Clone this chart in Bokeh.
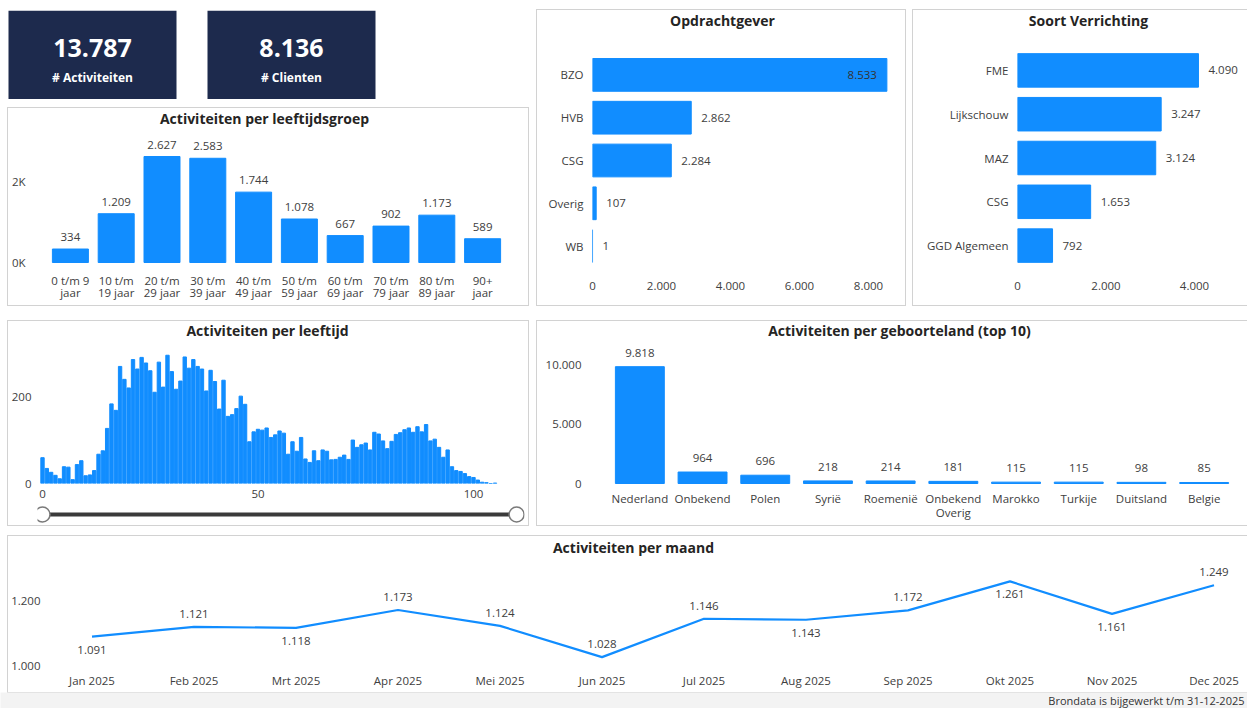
from bokeh.plotting import figure
from bokeh.layouts import row, column
from bokeh.models import Range1d, FactorRange, FixedTicker
from bokeh.core.properties import value
from bokeh.embed import file_html
from bokeh.resources import INLINE

# ---------------- data ----------------
kpi_values = [13787, 8136]
kpi_labels = ["# Activiteiten", "# Clienten"]

age_groups = ["0 t/m 9 jaar", "10 t/m 19 jaar", "20 t/m 29 jaar", "30 t/m 39 jaar",
              "40 t/m 49 jaar", "50 t/m 59 jaar", "60 t/m 69 jaar", "70 t/m 79 jaar",
              "80 t/m 89 jaar", "90+ jaar"]
age_group_axis_labels = ["0 t/m 9\njaar", "10 t/m\n19 jaar", "20 t/m\n29 jaar",
                         "30 t/m\n39 jaar", "40 t/m\n49 jaar", "50 t/m\n59 jaar",
                         "60 t/m\n69 jaar", "70 t/m\n79 jaar", "80 t/m\n89 jaar", "90+\njaar"]
age_group_counts = [334, 1209, 2627, 2583, 1744, 1078, 667, 902, 1173, 589]
age_group_ticks = [0, 2000]
age_group_tick_labels = ["0K", "2K"]

opdrachtgevers = ["BZO", "HVB", "CSG", "Overig", "WB"]
opdrachtgever_counts = [8533, 2862, 2284, 107, 1]
opdrachtgever_ticks = [0, 2000, 4000, 6000, 8000]

verrichtingen = ["FME", "Lijkschouw", "MAZ", "CSG", "GGD Algemeen"]
verrichting_counts = [4090, 3247, 3124, 1653, 792]
verrichting_ticks = [0, 2000, 4000]

ages = list(range(106))
age_counts = [
    60, 35, 26, 19, 11, 39, 38, 9, 44, 53,
    18, 20, 30, 68, 76, 128, 185, 170, 272, 242,
    222, 288, 266, 293, 280, 262, 212, 282, 224, 298,
    260, 219, 238, 294, 268, 288, 272, 266, 215, 263,
    237, 173, 240, 156, 160, 174, 203, 184, 97, 120,
    126, 124, 129, 107, 113, 122, 117, 68, 97, 75,
    107, 57, 49, 76, 53, 78, 75, 55, 56, 61,
    66, 56, 101, 84, 90, 94, 78, 119, 115, 99,
    81, 98, 114, 118, 125, 129, 119, 132, 120, 137,
    99, 103, 84, 61, 78, 39, 30, 28, 23, 16,
    14, 8, 3, 2, 0, 1,
]
hist_xticks = [0, 50, 100]
hist_yticks = [0, 200]
slider_range = [0, 110]

landen = ["Nederland", "Onbekend", "Polen", "Syrië", "Roemenië", "Onbekend Overig",
          "Marokko", "Turkije", "Duitsland", "Belgie"]
landen_axis_labels = ["Nederland", "Onbekend", "Polen", "Syrië", "Roemenië",
                      "Onbekend\nOverig", "Marokko", "Turkije", "Duitsland", "Belgie"]
landen_counts = [9818, 964, 696, 218, 214, 181, 115, 115, 98, 85]
landen_ticks = [0, 5000, 10000]

maanden = ["Jan 2025", "Feb 2025", "Mrt 2025", "Apr 2025", "Mei 2025", "Jun 2025",
           "Jul 2025", "Aug 2025", "Sep 2025", "Okt 2025", "Nov 2025", "Dec 2025"]
maand_counts = [1091, 1121, 1118, 1173, 1124, 1028, 1146, 1143, 1172, 1261, 1161, 1249]
maand_label_pos = ["below", "above", "below", "above", "above", "above",
                   "above", "below", "above", "below", "below", "above"]
maand_yticks = [1000, 1200]

footer_text = "Brondata is bijgewerkt t/m 31-12-2025"

# ---------------- style ----------------
FONT = "Open Sans"
BLUE = "#118DFF"
TITLE_C = "#252423"
TICK_C = "#404040"
LABEL_C = "#404040"
CARD_C = "#1d2a4d"
PANEL = {"outline": "1px solid #d2d2d2"}


def nl(v):
    return f"{int(v):,}".replace(",", ".")


def make_fig(w, h, xr, yr, mbl, mbr, mbt, mbb, axes=True):
    kw = {}
    if not axes:
        kw = dict(x_axis_type=None, y_axis_type=None)
    p = figure(width=w, height=h, x_range=xr, y_range=yr, output_backend="svg",
               toolbar_location=None, min_border_left=mbl, min_border_right=mbr,
               min_border_top=mbt, min_border_bottom=mbb, **kw)
    p.outline_line_color = None
    p.grid.visible = False
    p.background_fill_color = "white"
    p.border_fill_color = "white"
    return p


def title_fig(text, w, h, mbl, mbr, cx, cy):
    """Header strip of a panel; (cx, cy) = title centre relative to the strip's top-left."""
    fw = w - mbl - mbr
    t = make_fig(w, h, Range1d(0, fw), Range1d(0, h), mbl, mbr, 0, 0, axes=False)
    t.text(x=[cx - mbl], y=[h - cy], text=[text], text_align="center",
           text_baseline="middle", text_font=value(FONT), text_font_size="14px",
           text_font_style="bold", text_color=TITLE_C)
    return t


def style_axis(ax, standoff, size="11.5px"):
    ax.axis_line_color = None
    ax.major_tick_line_color = None
    ax.minor_tick_line_color = None
    ax.major_tick_out = 0
    ax.major_tick_in = 0
    ax.major_label_standoff = standoff
    ax.major_label_text_font = FONT
    ax.major_label_text_font_size = size
    ax.major_label_text_color = TICK_C


def data_text(p, **kw):
    base = dict(text_font=value(FONT), text_font_size="11.5px", text_color=LABEL_C,
                text_baseline="middle")
    base.update(kw)
    return p.text(**base)


# ---------------- KPI cards ----------------
CARD_PX = 199.0
p_kpi = make_fig(530, 89, Range1d(-92 / CARD_PX, (530 - 92) / CARD_PX), Range1d(0, 1),
                 0, 0, 0, 0, axes=False)
kx = list(range(len(kpi_values)))
p_kpi.rect(x=kx, y=0.5, width=168 / CARD_PX, height=1.0, fill_color=CARD_C, line_color=None)
p_kpi.text(x=kx, y=0.58, text=[nl(v) for v in kpi_values],
           text_font=value(FONT), text_font_size="25px", text_font_style="bold",
           text_color="white", text_align="center", text_baseline="middle")
p_kpi.text(x=kx, y=0.25, text=kpi_labels,
           text_font=value(FONT), text_font_size="12px", text_font_style="bold",
           text_color="white", text_align="center", text_baseline="middle")

# ---------------- age groups ----------------
AGE_PX = 0.04035          # pixels per activity
A_W, A_H, A_L, A_R, A_B = 520, 172, 39, 23, 2
A_BASE = 129              # baseline, px below top of plot area
p_age = make_fig(A_W, A_H, FactorRange(*age_groups),
                 Range1d(-(A_H - A_B - A_BASE) / AGE_PX, A_BASE / AGE_PX),
                 A_L, A_R, 0, A_B)
p_age.vbar(x=age_groups, top=age_group_counts, bottom=0, width=0.786, color=BLUE)
data_text(p_age, x=age_groups, y=age_group_counts, text=[nl(v) for v in age_group_counts],
          y_offset=-12, text_align="center")
data_text(p_age, x=age_groups, y=[0] * len(age_groups), text=age_group_axis_labels,
          y_offset=10, text_align="center", text_baseline="top", text_color=TICK_C,
          text_line_height=0.86)
p_age.xaxis.visible = False
style_axis(p_age.yaxis[0], 22)
p_age.yaxis.ticker = FixedTicker(ticks=age_group_ticks)
p_age.yaxis.major_label_overrides = dict(zip(age_group_ticks, age_group_tick_labels))
age_panel = column(title_fig("Activiteiten per leeftijdsgroep", A_W, 25, A_L, A_R, 256, 10),
                   p_age)
age_panel.margin = (9, 0, 0, 8)
age_panel.styles = PANEL

left_col = column(row(p_kpi), age_panel)


# ---------------- horizontal bar panels ----------------
def hbar_panel(cats, vals, ticks, w, xend, mbl, mbr, head_h, title, tcx):
    mbb = 38
    p = make_fig(w, 295 - head_h, Range1d(0, xend), FactorRange(*reversed(cats)),
                 mbl, mbr, 0, mbb)
    p.hbar(y=cats, right=vals, left=0, height=0.765, color=BLUE)
    inside = [v > 0.9 * xend for v in vals]
    data_text(p, x=vals, y=cats, text=[nl(v) for v in vals],
              x_offset=[-10 if i else 10 for i in inside],
              text_align=["right" if i else "left" for i in inside],
              text_color=["#333333" if i else LABEL_C for i in inside])
    style_axis(p.xaxis[0], 14)
    p.xaxis.ticker = FixedTicker(ticks=ticks)
    p.xaxis.major_label_overrides = {t: nl(t) for t in ticks}
    style_axis(p.yaxis[0], 9)
    panel = column(title_fig(title, w, head_h, mbl, mbr, tcx, 10), p)
    panel.styles = PANEL
    return panel


opd_panel = hbar_panel(opdrachtgevers, opdrachtgever_counts, opdrachtgever_ticks, 368, 8638,
                       55, 15, 43, "Opdrachtgever", 185)
opd_panel.margin = (0, 0, 0, 7)
ver_panel = hbar_panel(verrichtingen, verrichting_counts, verrichting_ticks, 334, 5085,
                       104, 5, 38, "Soort Verrichting", 175)
ver_panel.margin = (0, 0, 0, 8)

row1 = row(left_col, opd_panel, ver_panel)
row1.margin = (10, 0, 0, 0)

# ---------------- histogram per age ----------------
PX_YEAR = 4.31
H_W, H_H, H_L, H_R, H_B = 520, 158, 29, 4, 22
HIST_START = -5 / PX_YEAR
HIST_END = HIST_START + (H_W - H_L - H_R) / PX_YEAR
hist_x = Range1d(HIST_START, HIST_END)
p_hist = make_fig(H_W, H_H, hist_x, Range1d(0, 316), H_L, H_R, 0, H_B)
p_hist.vbar(x=ages, top=age_counts, width=0.78, color=BLUE)
style_axis(p_hist.xaxis[0], 6)
p_hist.xaxis.ticker = FixedTicker(ticks=hist_xticks)
style_axis(p_hist.yaxis[0], 6)
p_hist.yaxis.ticker = FixedTicker(ticks=hist_yticks)

p_slider = make_fig(H_W, 20, hist_x, Range1d(-1, 1), H_L, H_R, 0, 0, axes=False)
p_slider.line(x=slider_range, y=[0.1, 0.1], line_width=4, color="#3a3a3a")
p_slider.scatter(x=slider_range, y=[0.1, 0.1], size=15, fill_color="white",
                 line_color="#7a7a7a", line_width=1.5)

hist_panel = column(title_fig("Activiteiten per leeftijd", H_W, 26, H_L, H_R, 259, 9),
                    p_hist, p_slider)
hist_panel.margin = (0, 0, 0, 8)
hist_panel.styles = PANEL

# ---------------- geboorteland ----------------
GEB_PX = 0.0119
G_W, G_H, G_L, G_R, G_B = 710, 182, 71, 12, 2
G_BASE = 140
p_geb = make_fig(G_W, G_H, FactorRange(*landen),
                 Range1d(-(G_H - G_B - G_BASE) / GEB_PX, G_BASE / GEB_PX),
                 G_L, G_R, 0, G_B)
p_geb.vbar(x=landen, top=landen_counts, bottom=0, width=0.78, color=BLUE)
data_text(p_geb, x=landen, y=landen_counts, text=[nl(v) for v in landen_counts],
          y_offset=-14, text_align="center")
data_text(p_geb, x=landen, y=[0] * len(landen), text=landen_axis_labels,
          y_offset=7, text_align="center", text_baseline="top", text_color=TICK_C,
          text_line_height=0.98)
p_geb.xaxis.visible = False
style_axis(p_geb.yaxis[0], 27)
p_geb.yaxis.ticker = FixedTicker(ticks=landen_ticks)
p_geb.yaxis.major_label_overrides = {t: nl(t) for t in landen_ticks}
geb_panel = column(title_fig("Activiteiten per geboorteland (top 10)", G_W, 22, G_L, G_R,
                             362, 9), p_geb)
geb_panel.margin = (0, 0, 0, 9)
geb_panel.styles = PANEL

row2 = row(hist_panel, geb_panel)
row2.margin = (16, 0, 0, 0)

# ---------------- per maand ----------------
PX_MONTH = 102.0
M_W, M_H, M_L, M_R, M_B = 1239, 132, 38, 7, 22
M_START = -(83.5 - M_L) / PX_MONTH
M_END = M_START + (M_W - M_L - M_R) / PX_MONTH
midx = list(range(len(maanden)))
p_m = make_fig(M_W, M_H, Range1d(M_START, M_END), Range1d(986.8, 1325.3), M_L, M_R, 0, M_B)
p_m.line(x=midx, y=maand_counts, color=BLUE, line_width=2.2)
data_text(p_m, x=midx, y=maand_counts, text=[nl(v) for v in maand_counts],
          y_offset=[-13 if s == "above" else 13 for s in maand_label_pos], text_align="center")
style_axis(p_m.xaxis[0], 2)
p_m.xaxis.ticker = FixedTicker(ticks=midx)
p_m.xaxis.major_label_overrides = dict(zip(midx, maanden))
style_axis(p_m.yaxis[0], 6)
p_m.yaxis.ticker = FixedTicker(ticks=maand_yticks)
p_m.yaxis.major_label_overrides = {t: nl(t) for t in maand_yticks}
m_panel = column(title_fig("Activiteiten per maand", M_W, 24, M_L, M_R, 625, 11), p_m)
m_panel.margin = (11, 0, 0, 8)
m_panel.styles = PANEL

# ---------------- footer ----------------
p_foot = make_fig(1247, 16, Range1d(0, 1), Range1d(0, 1), 0, 0, 0, 0, axes=False)
p_foot.background_fill_color = "#f3f3f3"
p_foot.border_fill_color = "#f3f3f3"
p_foot.text(x=[1], y=[0.5], text=[footer_text], x_offset=-3, text_align="right",
            text_baseline="middle", text_font=value(FONT), text_font_size="11px",
            text_color="#333333")

page = column(row1, row2, m_panel, row(p_foot))

open("out.html", "w").write(file_html(page, INLINE))
